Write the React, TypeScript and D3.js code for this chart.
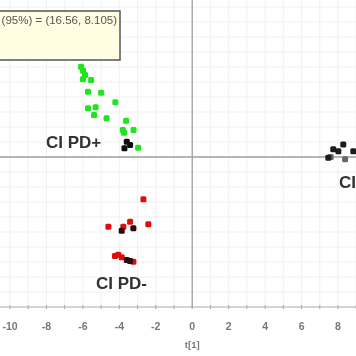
import React from "react";
import * as d3 from "d3";

const W = 356;
const H = 356;

// t[1], t[2] scores per group
const greenX = [-6.1, -5.99, -5.88, -6.0, -5.55, -5.72, -5.0, -4.22, -5.72, -5.3, -5.39, -4.7, -3.63, -3.81, -3.22, -3.74, -2.97];
const greenY = [6.02, 5.75, 5.47, 5.18, 5.13, 4.35, 4.29, 3.65, 3.25, 3.31, 2.8, 2.58, 2.42, 1.8, 1.8, 1.62, 0.62];
const greenBlackX = [-3.59, -3.72, -3.41];
const greenBlackY = [1.02, 0.58, 0.8];

const redX = [-2.68, -4.6, -3.78, -3.41, -2.41, -4.24, -4.06, -3.87, -3.23];
const redY = [-2.82, -4.65, -4.65, -4.31, -4.49, -6.6, -6.51, -6.69, -6.98];
const redBlackX = [-3.87, -3.23, -3.59, -3.41];
const redBlackY = [-4.91, -4.75, -6.87, -6.93];

const darkX = [7.47, 7.74, 8.02, 8.29, 8.84];
const darkY = [-0.05, 0.51, 0.39, 0.84, 0.39];
const grayX = [8.39, 7.6];
const grayY = [-0.15, 0.0];

const xTicks = [-10, -8, -6, -4, -2, 0, 2, 4, 6, 8];
const legendText = "Ellipse: Hotelling's T2 (95%) = (16.56, 8.105)";
const xLabel = "t[1]";

const x = d3.scaleLinear().domain([-10, 8]).range([10, 338]);
const y = d3.scaleLinear().domain([-10, 10]).range([307, 7]);

const font = "Liberation Sans, Arial, sans-serif";

function Points({ xs, ys, color }: { xs: number[]; ys: number[]; color: string }) {
  return (
    <g>
      {xs.map((v, i) => (
        <rect key={i} x={x(v) - 3} y={y(ys[i]) - 3} width={6} height={6} rx={1.5} fill={color} />
      ))}
    </g>
  );
}

export default function App() {
  const gridX = d3.range(-11, 10, 1);
  const gridY = d3.range(-10, 11, 1);
  const minorTicks = d3.range(-11, 10, 1);
  return (
    <svg width={W} height={H} style={{ position: "absolute", left: 0, top: 0, background: "#fff" }}>
      <defs>
        <filter id="blur" x="-20%" y="-20%" width="140%" height="140%">
          <feGaussianBlur stdDeviation="0.7" />
        </filter>
      </defs>
      <g filter="url(#blur)">
        {gridX.map((v) => (
          <line key={"gx" + v} x1={x(v)} x2={x(v)} y1={0} y2={307} stroke="#f1f1f1" strokeWidth={1} />
        ))}
        {gridY.map((v) => (
          <line key={"gy" + v} x1={0} x2={W} y1={y(v)} y2={y(v)} stroke="#f1f1f1" strokeWidth={1} />
        ))}
        {/* zero lines */}
        <line x1={x(0)} x2={x(0)} y1={0} y2={307} stroke="#a0a0a0" strokeWidth={1.3} />
        <line x1={0} x2={W} y1={y(0)} y2={y(0)} stroke="#a0a0a0" strokeWidth={1.3} />
        {/* bottom axis */}
        <line x1={0} x2={W} y1={307} y2={307} stroke="#b0b0b0" strokeWidth={1} />
        {minorTicks.map((v) => (
          <line key={"t" + v} x1={x(v)} x2={x(v)} y1={305} y2={309} stroke="#aaa" strokeWidth={1} />
        ))}
        {xTicks.map((v) => (
          <text key={"l" + v} x={x(v)} y={330} textAnchor="middle" fontFamily={font} fontSize={10.5} fontWeight="bold" fill="#777">
            {v}
          </text>
        ))}
        <text x={x(0)} y={348} textAnchor="middle" fontFamily={font} fontSize={9.5} fontWeight="bold" fill="#777">
          {xLabel}
        </text>

        {/* legend box */}
        <rect x={-60} y={11} width={180} height={49} fill="#fffde2" stroke="#555" strokeWidth={1.5} />
        <text x={117} y={24} textAnchor="end" fontFamily={font} fontSize={11.5} fill="#555">
          {legendText}
        </text>

        <Points xs={greenX} ys={greenY} color="#1ee61e" />
        <Points xs={greenBlackX} ys={greenBlackY} color="#111" />
        <Points xs={redX} ys={redY} color="#e01010" />
        <Points xs={redBlackX} ys={redBlackY} color="#2a0a0a" />
        <Points xs={grayX} ys={grayY} color="#666" />
        <Points xs={darkX} ys={darkY} color="#1a1a1a" />

        <text x={46} y={148} fontFamily={font} fontSize={17} fontWeight="bold" fill="#333">CI PD+</text>
        <text x={96} y={289} fontFamily={font} fontSize={17} fontWeight="bold" fill="#333">CI PD-</text>
        <text x={339} y={188} fontFamily={font} fontSize={17} fontWeight="bold" fill="#333">CI PD0</text>
      </g>
    </svg>
  );
}
